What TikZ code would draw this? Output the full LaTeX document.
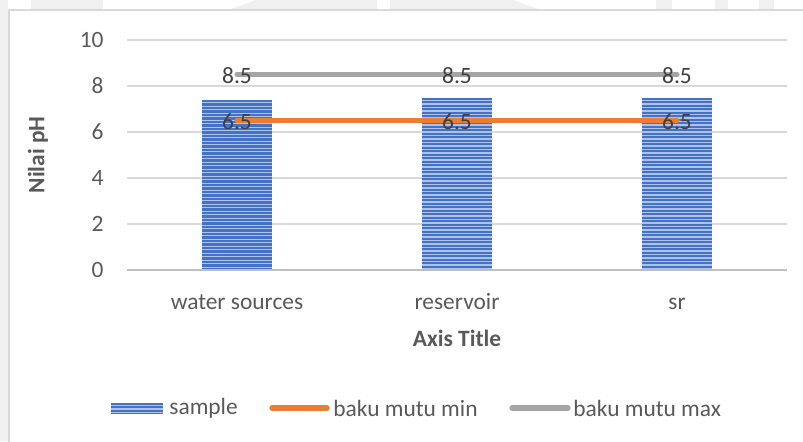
\documentclass[tikz,border=0pt]{standalone}
\usepackage{fontspec}
\setmainfont{Carlito}
\usepackage{tikz}
\usetikzlibrary{positioning}
\newcommand{\unitPH}[0]{11.5pt}
\newcommand{\chartFont}[0]{\fontsize{11.7}{14}\selectfont}
\definecolor{axisgray}{HTML}{595959}
\definecolor{labelgray}{HTML}{404040}
\definecolor{gridgray}{HTML}{D9D9D9}
\definecolor{basegray}{HTML}{BFBFBF}
\definecolor{barblue}{HTML}{4472C4}
\definecolor{barlight}{HTML}{AFC3EA}
\definecolor{minorange}{HTML}{ED7D31}
\definecolor{maxgray}{HTML}{A5A5A5}
\definecolor{markgray}{HTML}{F0F0F0}

\begin{document}
\begin{tikzpicture}[x=0.5pt, y=-0.5pt, font=\chartFont]
  \tikzset{
    ticklabel/.style={text=axisgray, anchor=east, inner sep=0pt},
    catlabel/.style={text=axisgray, anchor=base, inner sep=0pt},
    axistitle/.style={text=axisgray, font=\chartFont\bfseries, inner sep=0pt},
    datalabel/.style={text=labelgray, inner sep=0pt, yshift=-0.75pt},
    keytext/.style={text=axisgray, anchor=west, inner sep=0pt},
    phbar/.style={minimum width=35pt, minimum height=#1*\unitPH, anchor=south,
      inner sep=0pt, outer sep=0pt, fill=barlight,
      path picture={
        \foreach \k in {0,...,60}
          \draw[barblue, line width=1.05pt]
            ([yshift=-\k*1.75pt-0.6pt]path picture bounding box.north west) --
            ([yshift=-\k*1.75pt-0.6pt]path picture bounding box.north east);
      }},
    minline/.style={minorange, line width=2.6pt, line cap=round, line join=round},
    maxline/.style={maxgray, line width=2.6pt, line cap=round, line join=round},
  }
  \useasboundingbox (0,0) rectangle (803,441);
  \clip (0,0) rectangle (803,441);
  \fill[markgray] (0,0) rectangle (8,441);
  \fill[markgray] (31,0) rectangle (103,9);
  \fill[markgray] (256,0) -- (377,0) -- (377,9) -- (231,9) -- cycle;
  \fill[markgray] (390,0) -- (513,0) -- (538,9) -- (390,9) -- cycle;
  \fill[markgray] (656,0) rectangle (672,9);
  \fill[markgray] (715,0) rectangle (728,9);
  \fill[markgray] (759,0) rectangle (774,9);
  \draw[gridgray, line width=0.75pt] (9,10) rectangle (830,470);
  \foreach \v in {2,4,...,10}
    \draw[gridgray, line width=0.75pt] (127,{270-23*\v}) -- (787,{270-23*\v});
  \foreach \v in {0,2,...,10}
    \node[ticklabel] (tick-\v) at (104,{270-23*\v}) {\v};
  \node[phbar=7.4] (bar-1) at (237,270) {};
  \node[phbar=7.5] (bar-2) at (457,270) {};
  \node[phbar=7.5] (bar-3) at (677,270) {};
  \draw[basegray, line width=1.2pt] (127,270) -- (787,270);
  \node[catlabel] (cat-1) at (237,309.5) {water sources};
  \node[catlabel] (cat-2) at (457,309.5) {reservoir};
  \node[catlabel] (cat-3) at (677,309.5) {sr};
  \node[axistitle, anchor=base] (xtitle) at (457,346) {Axis Title};
  \node[axistitle, rotate=90] (ytitle) at (38,155) {Nilai pH};
  \coordinate (min-1) at (237,{270-23*6.5});
  \coordinate (min-2) at (457,{270-23*6.5});
  \coordinate (min-3) at (677,{270-23*6.5});
  \coordinate (max-1) at (237,{270-23*8.5});
  \coordinate (max-2) at (457,{270-23*8.5});
  \coordinate (max-3) at (677,{270-23*8.5});
  \draw[maxline] (max-1) -- (max-2) -- (max-3);
  \draw[minline] (min-1) -- (min-2) -- (min-3);
  \node[datalabel] (lbl-max-1) at (max-1) {8.5};
  \node[datalabel] (lbl-max-2) at (max-2) {8.5};
  \node[datalabel] (lbl-max-3) at (max-3) {8.5};
  \node[datalabel] (lbl-min-1) at (min-1) {6.5};
  \node[datalabel] (lbl-min-2) at (min-2) {6.5};
  \node[datalabel] (lbl-min-3) at (min-3) {6.5};
  \node[phbar=0, minimum height=5.5pt, minimum width=26pt, anchor=west] (key-sample) at (111,408) {};
  \node[keytext, right=3pt of key-sample] (key-sample-text) {sample};
  \coordinate (key-min-a) at (272,408);
  \coordinate (key-min-b) at (327,408);
  \draw[minline] (key-min-a) -- (key-min-b);
  \node[keytext, right=3pt of key-min-b] (key-min-text) {baku mutu min};
  \coordinate (key-max-a) at (512,408);
  \coordinate (key-max-b) at (568,408);
  \draw[maxline] (key-max-a) -- (key-max-b);
  \node[keytext, right=2.5pt of key-max-b] (key-max-text) {baku mutu max};
\end{tikzpicture}
\end{document}
